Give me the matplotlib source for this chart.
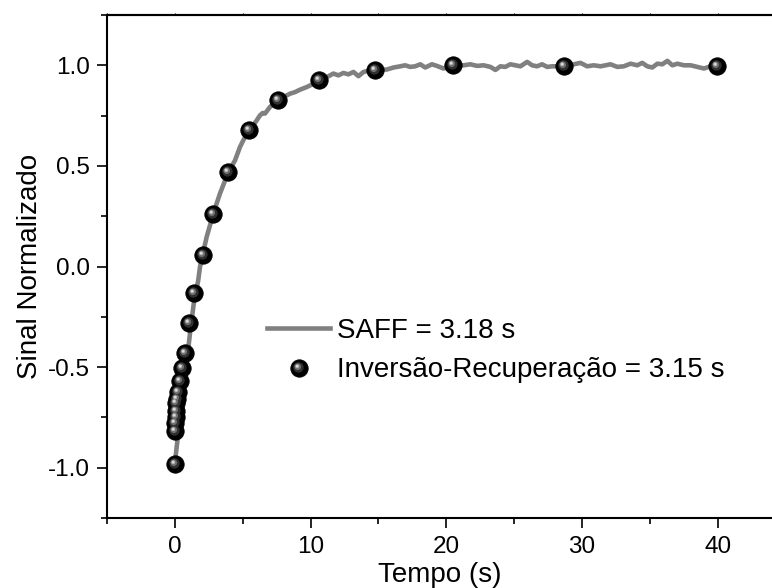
import numpy as np
import matplotlib
matplotlib.use("Agg")
import matplotlib.pyplot as plt
from matplotlib.path import Path
from matplotlib.lines import Line2D
from matplotlib.legend_handler import HandlerTuple
from matplotlib.ticker import MultipleLocator

plt.rcParams['font.family'] = ['Liberation Sans', 'DejaVu Sans']

# ---- Dados ----
# Curva SAFF (sinal normalizado vs tempo)
saff_t = [0.0, 0.13, 0.37, 0.61, 0.86, 1.11, 1.42, 1.72, 1.85, 2.34, 2.83, 3.32,
          3.94, 4.43, 4.80, 5.04, 5.49, 6.03, 6.27, 6.47, 6.64, 7.01, 7.63, 8.49,
          8.86, 9.23, 9.72, 10.63, 11.44, 11.68, 12.05, 12.42, 12.79, 13.16, 13.53,
          13.90, 14.76, 15.62, 16.11, 16.61, 16.97, 17.34, 17.71, 18.08, 18.45,
          18.94, 19.31, 19.80, 20.54, 21.28, 21.77, 22.27, 22.75, 23.25, 23.62,
          23.99, 24.35, 24.72, 25.09, 25.46, 25.96, 26.32, 26.69, 27.06, 27.43,
          27.80, 28.66, 29.40, 29.89, 30.38, 30.87, 31.37, 32.10, 32.60, 33.08,
          33.58, 34.07, 34.44, 34.81, 35.18, 35.55, 35.92, 36.29, 36.66, 37.03,
          37.51, 38.00, 38.50, 38.99, 39.48, 39.93]
saff_s = [-0.98, -0.899, -0.766, -0.617, -0.484, -0.335, -0.169, -0.07, -0.003,
          0.146, 0.262, 0.362, 0.469, 0.527, 0.594, 0.627, 0.677, 0.726, 0.751,
          0.763, 0.760, 0.793, 0.829, 0.859, 0.867, 0.879, 0.892, 0.922, 0.950,
          0.959, 0.950, 0.962, 0.955, 0.967, 0.946, 0.967, 0.979, 0.979, 0.989,
          0.995, 1.000, 0.992, 0.995, 1.005, 0.989, 1.005, 0.997, 0.984, 1.000,
          1.000, 1.005, 0.997, 1.000, 0.992, 0.977, 0.995, 0.992, 1.005, 1.000,
          0.995, 1.017, 1.000, 0.995, 1.005, 0.992, 0.995, 0.995, 1.005, 1.012,
          0.995, 1.000, 0.995, 1.005, 0.992, 0.995, 1.008, 1.000, 1.012, 0.995,
          0.989, 1.008, 1.005, 1.022, 1.000, 1.008, 1.000, 1.000, 0.992, 0.984,
          0.995, 0.995]

# Inversão-Recuperação
ir_t = [0.0, 0.01, 0.03, 0.06, 0.08, 0.12, 0.17, 0.20, 0.37, 0.49, 0.74, 1.03,
        1.42, 2.04, 2.83, 3.94, 5.49, 7.63, 10.63, 14.76, 20.50, 28.66, 39.93]
ir_s = [-0.98, -0.816, -0.78, -0.75, -0.716, -0.68, -0.66, -0.625, -0.567,
        -0.504, -0.43, -0.282, -0.131, 0.055, 0.262, 0.469, 0.677, 0.829,
        0.929, 0.979, 1.000, 0.995, 0.995]

label_saff = "SAFF = 3.18 s"
label_ir = "Inversão-Recuperação = 3.15 s"

# ---- Marcador "esfera" (círculo preto + brilho deslocado) ----
D = 12.5  # diâmetro da esfera em pt


def spot(cx, cy, r):
    p = Path.circle((cx, cy), r)
    ext = max(abs(cx), abs(cy)) + r
    return p, 2 * D * ext


sphere_layers = [
    (spot(-0.06, 0.06, 0.30), "#303030"),
    (spot(-0.10, 0.10, 0.19), "#707070"),
    (spot(-0.13, 0.13, 0.11), "#b8b8b8"),
    (spot(-0.14, 0.14, 0.05), "#eeeeee"),
]

fig = plt.figure(figsize=(7.72, 5.88), dpi=100)
ax = fig.add_axes([0.1386, 0.119, 0.8614, 0.8555])

ax.plot(saff_t, saff_s, color="#808080", lw=3.3, solid_joinstyle="round",
        zorder=2)

ax.plot(ir_t, ir_s, ls="none", marker="o", ms=D, mfc="black", mec="black",
        mew=0.6, zorder=3)
for (path, ms), col in sphere_layers:
    ax.plot(ir_t, ir_s, ls="none", marker=path, ms=ms, mfc=col, mec="none",
            zorder=4)

# legenda
h_line = Line2D([], [], color="#808080", lw=3.3)
h_ball = [Line2D([], [], ls="none", marker="o", ms=D, mfc="black",
                 mec="black", mew=0.6)]
for (path, ms), col in sphere_layers:
    h_ball.append(Line2D([], [], ls="none", marker=path, ms=ms, mfc=col,
                         mec="none"))
ax.legend([h_line, tuple(h_ball)], [label_saff, label_ir],
          handler_map={tuple: HandlerTuple(ndivide=1)},
          loc="upper left", bbox_to_anchor=(0.203, 0.447), frameon=False,
          fontsize=20, handlelength=2.27, handletextpad=0.25,
          labelspacing=0.47)

ax.set_xlim(-5, 44)
ax.set_ylim(-1.25, 1.25)
ax.xaxis.set_major_locator(MultipleLocator(10))
ax.xaxis.set_minor_locator(MultipleLocator(5))
ax.yaxis.set_major_locator(MultipleLocator(0.5))
ax.yaxis.set_minor_locator(MultipleLocator(0.25))
ax.yaxis.set_major_formatter(plt.FormatStrFormatter("%.1f"))

ax.spines["right"].set_visible(False)
for s in ("left", "bottom", "top"):
    ax.spines[s].set_linewidth(1.5)

ax.tick_params(which="major", direction="out", length=7, width=1.2,
               labelsize=17.5)
ax.tick_params(axis="y", which="major", pad=5)
ax.tick_params(axis="x", which="major", pad=6)
ax.tick_params(which="minor", direction="out", length=4, width=1.2)

# marcas pequenas no eixo superior
top = ax.secondary_xaxis("top")
top.xaxis.set_major_locator(MultipleLocator(5))
top.tick_params(direction="out", length=1.5, width=0.8, labeltop=False)
top.spines["top"].set_linewidth(1.5)

ax.set_xlabel("Tempo (s)", fontsize=20, labelpad=3)
ax.set_ylabel("Sinal Normalizado", fontsize=20, labelpad=4)

fig.savefig("out.png", dpi=100)
